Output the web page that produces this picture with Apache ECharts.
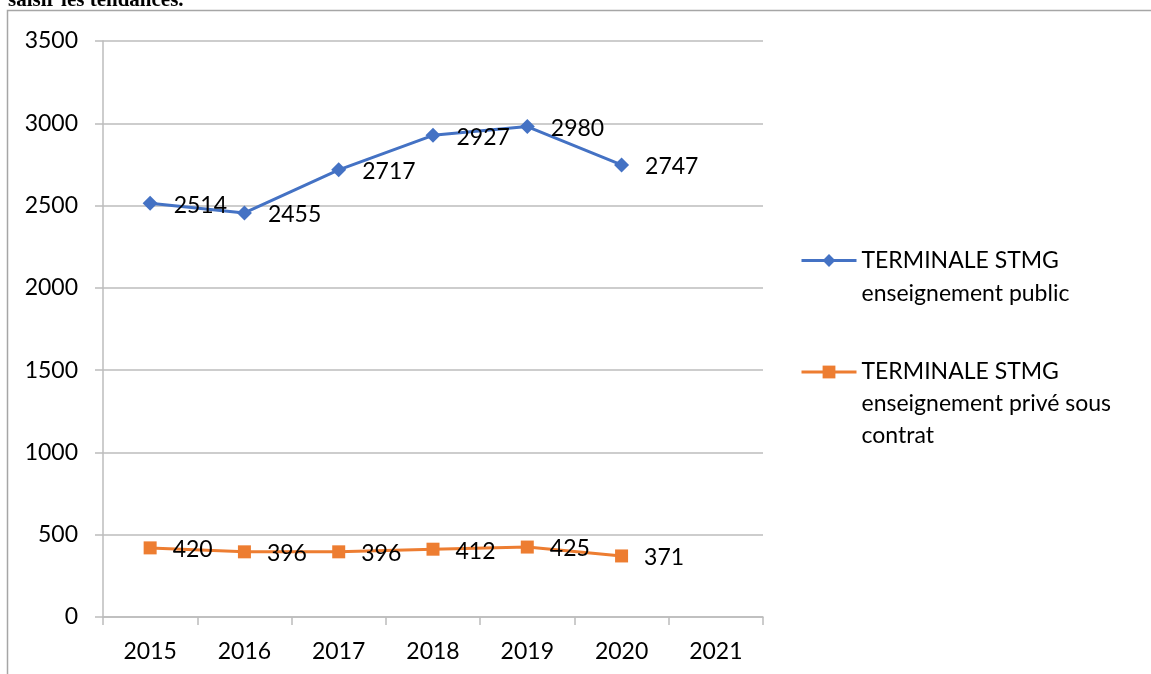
<!DOCTYPE html>
<html lang="fr">
<head>
  <meta charset="UTF-8">
  <title>Terminale STMG</title>
  <script src="https://cdn.jsdelivr.net/npm/echarts@6/dist/echarts.min.js"></script>
  <style>
    html, body { margin: 0; padding: 0; background: #fff; }
    #chart { width: 1151px; height: 674px; }
  </style>
</head>
<body>
  <div id="chart"></div>
  <script>
    var years = ['2015', '2016', '2017', '2018', '2019', '2020', '2021']
    var publicValues = [2514, 2455, 2717, 2927, 2980, 2747]
    var priveValues = [420, 396, 396, 412, 425, 371]
    var publicName = 'TERMINALE STMG\nenseignement public'
    var priveName = 'TERMINALE STMG\nenseignement privé sous\ncontrat'

    var font = 'Lato, "Noto Sans", sans-serif'
    var gray = '#bcbcbc'

    var mCharts = echarts.init(document.getElementById('chart'))

    var labelStyle = {
      show: true,
      position: 'right',
      distance: 16,
      offset: [0, 2],
      color: '#000',
      fontFamily: font,
      fontSize: 23
    }

    // lignes vides devant le nom pour que la 1re ligne soit au niveau du symbole
    function legendText(name) {
      var n = name.split('\n').length
      var pad = ''
      for (var i = 1; i < n; i++) pad += '\n'
      return pad + name
    }

    var option = {
      animation: false,
      backgroundColor: '#fff',
      graphic: [
        // cadre du graphique
        {
          type: 'rect',
          shape: { x: 7.5, y: 10.5, width: 1200, height: 700 },
          style: { fill: 'none', stroke: '#a6a6a6', lineWidth: 1.5 },
          silent: true
        },
        // bout de texte du document au-dessus
        {
          type: 'text',
          x: 8,
          y: 11,
          style: {
            text: 'saisir les tendances.',
            fontFamily: '"Liberation Serif", serif',
            fontWeight: 'bold',
            fontSize: 21,
            verticalAlign: 'bottom',
            fill: '#000'
          },
          silent: true
        }
      ],
      legend: [
        {
          data: [publicName],
          left: 795,
          top: 260 - 16 - 33 - 5,
          itemWidth: 55,
          itemHeight: 16,
          formatter: legendText,
          lineStyle: { width: 3 },
          textStyle: { fontFamily: font, fontSize: 23, color: '#000', lineHeight: 33 }
        },
        {
          data: [priveName],
          left: 795,
          top: 372 - 16 - 64 - 5,
          itemWidth: 55,
          itemHeight: 16,
          formatter: legendText,
          lineStyle: { width: 3 },
          textStyle: { fontFamily: font, fontSize: 23, color: '#000', lineHeight: 32 }
        }
      ],
      grid: { left: 103, top: 41, right: 388, bottom: 57 },
      xAxis: {
        type: 'category',
        data: years,
        boundaryGap: true,
        axisLine: { lineStyle: { color: gray, width: 1.5 } },
        axisTick: { show: true, length: 8, lineStyle: { color: gray, width: 1.5 } },
        axisLabel: { color: '#000', fontFamily: font, fontSize: 23, margin: 23 }
      },
      yAxis: {
        type: 'value',
        min: 0,
        max: 3500,
        interval: 500,
        axisLine: { show: true, lineStyle: { color: gray, width: 1.5 } },
        axisTick: { show: true, length: 8, lineStyle: { color: gray, width: 1.5 } },
        splitLine: { lineStyle: { color: gray, width: 1.5 } },
        axisLabel: {
          color: '#000', fontFamily: font, fontSize: 23, margin: 25,
          formatter: function (v) { return String(v) }
        }
      },
      series: [
        {
          name: publicName,
          type: 'line',
          data: publicValues,
          symbol: 'diamond',
          symbolSize: 15,
          color: '#4472c4',
          lineStyle: { width: 3 },
          label: labelStyle
        },
        {
          name: priveName,
          type: 'line',
          data: priveValues,
          symbol: 'rect',
          symbolSize: 13,
          color: '#ed7d31',
          lineStyle: { width: 3 },
          label: labelStyle
        }
      ]
    }

    mCharts.setOption(option)
  </script>
</body>
</html>
